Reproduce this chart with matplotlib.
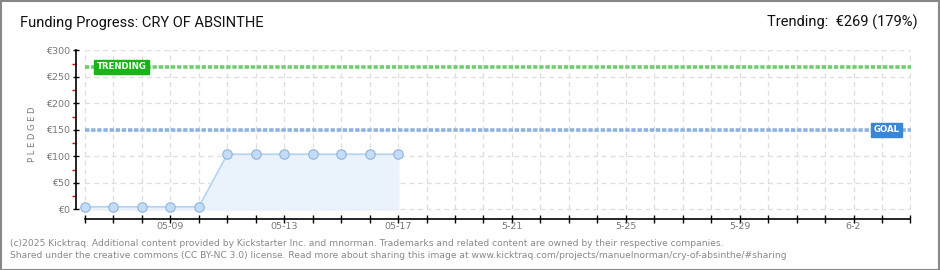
import matplotlib
matplotlib.use("Agg")
import matplotlib.pyplot as plt
from matplotlib.patches import Rectangle

# ---- data ----
day_labels = ["05-06", "05-07", "05-08", "05-09", "05-10", "05-11", "05-12",
              "05-13", "05-14", "05-15", "05-16", "05-17"]
pledged = [5, 5, 5, 5, 5, 104, 104, 104, 104, 104, 104, 104]
n_days_axis = 30  # 05-06 .. 06-04
xtick_label_pos = [3, 7, 11, 15, 19, 23, 27]
xtick_labels = ["05-09", "05-13", "05-17", "5-21", "5-25", "5-29", "6-2"]
ytick_vals = [0, 50, 100, 150, 200, 250, 300]
ytick_labels = ["€0", "€50", "€100", "€150", "€200", "€250", "€300"]
goal = 150
trending = 269
trending_pct = 179
title = "Funding Progress: CRY OF ABSINTHE"

W, H = 940, 270
fig = plt.figure(figsize=(W / 100, H / 100), dpi=100)
fig.patch.set_facecolor("white")

# frame
fig.add_artist(Rectangle((0.5 / W, 0.5 / H), (W - 1.5) / W, (H - 1.5) / H,
                         transform=fig.transFigure, fill=False,
                         edgecolor="#888888", linewidth=1.5))

left_px, right_px, top_px, bottom_px = 76, 911, 50, 219
ax = fig.add_axes([left_px / W, 1 - bottom_px / H,
                   (right_px - left_px) / W, (bottom_px - top_px) / H])
xmin = -0.316
xmax = n_days_axis - 1 + 0.02
ax.set_xlim(xmin, xmax)
ax.set_ylim(-18, 300.5)

x = list(range(len(pledged)))
ax.fill_between(x, pledged, 0, color="#eaf2fc", zorder=1)
ax.plot(x, pledged, color="#b5d2f3", lw=1.2, zorder=3)
ax.plot(x, pledged, linestyle="none", marker="o", markersize=6.8,
        markerfacecolor="#c5dcf6", markeredgecolor="#8eb3de",
        markeredgewidth=0.8, zorder=4)

# grid
for d in range(n_days_axis):
    ax.plot([d, d], [0, 300], color="#dedede", lw=0.9, ls=(0, (4, 3)), zorder=0)
for v in ytick_vals:
    ax.plot([0, n_days_axis - 1], [v, v], color="#dedede", lw=0.9,
            ls=(0, (4, 3)), zorder=0)

# goal & trending lines
ax.plot([xmin + 0.3, xmax], [goal, goal], color="#8fb3dc", lw=2.6,
        ls=(0, (1.2, 0.5)), zorder=2)
ax.plot([xmin + 0.3, xmax], [trending, trending], color="#6fcd6f", lw=2.6,
        ls=(0, (1.2, 0.5)), zorder=2)

# label boxes
ax.text(0.4, trending, "TRENDING", color="white", fontsize=6.2,
        fontweight="bold", va="center", ha="left", zorder=6,
        bbox=dict(boxstyle="square,pad=0.3", fc="#18b418", ec="#18b418"))
ax.text(27.7, goal, "GOAL", color="white", fontsize=6.2,
        fontweight="bold", va="center", ha="left", zorder=6,
        bbox=dict(boxstyle="square,pad=0.3", fc="#3a87d6", ec="#3a87d6"))

# spines
for s in ["top", "right"]:
    ax.spines[s].set_visible(False)
ax.spines["left"].set_bounds(0, 300)
ax.spines["bottom"].set_bounds(0, n_days_axis - 1)
ax.spines["left"].set_linewidth(1.2)
ax.spines["bottom"].set_linewidth(1.2)

ax.set_yticks(ytick_vals)
ax.set_yticklabels(ytick_labels)
ax.set_yticks([25, 75, 125, 175, 225, 275], minor=True)
ax.tick_params(axis="y", which="major", direction="inout", length=5,
               width=1, color="black", labelsize=6.8, labelcolor="#777777",
               pad=2)
ax.tick_params(axis="y", which="minor", direction="out", length=3,
               width=1, color="#dd0000")

ax.set_xticks(range(n_days_axis))
ax.set_xticklabels(["" for _ in range(n_days_axis)])
ax.tick_params(axis="x", which="major", direction="inout", length=6,
               width=1, color="black")
for p, lab in zip(xtick_label_pos, xtick_labels):
    ax.text(p, -24, lab, ha="center", va="top", fontsize=6.8, color="#777777")

ax.set_ylabel("P L E D G E D", fontsize=6, color="#777777", labelpad=6)

fig.text(20 / W, 1 - 23 / H, title, fontsize=10.5,
         family=["Roboto", "DejaVu Sans"], color="#111111",
         va="center", ha="left")
fig.text(918 / W, 1 - 22 / H, f"Trending:  €{trending} ({trending_pct}%)",
         fontsize=10.5, family=["Roboto", "DejaVu Sans"],
         color="#111111", va="center", ha="right")

foot1 = ("(c)2025 Kicktraq. Additional content provided by Kickstarter Inc. and "
         "mnorman. Trademarks and related content are owned by their respective companies.")
foot2 = ("Shared under the creative commons (CC BY-NC 3.0) license. Read more about "
         "sharing this image at www.kicktraq.com/projects/manuelnorman/cry-of-absinthe/#sharing")
fig.text(10 / W, 1 - 243 / H, foot1, fontsize=6.6, color="#888888",
         va="center", ha="left")
fig.text(10 / W, 1 - 256 / H, foot2, fontsize=6.6, color="#888888",
         va="center", ha="left")

fig.savefig("out.png", dpi=100, facecolor="white")
